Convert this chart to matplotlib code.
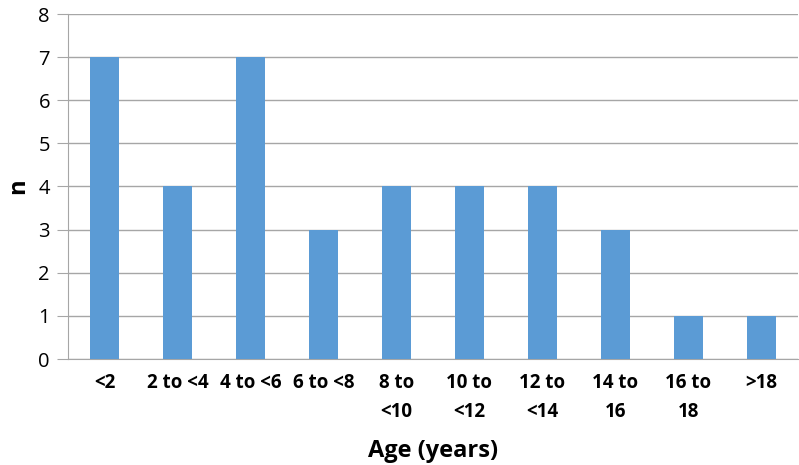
import numpy as np
from matplotlib import pyplot as plt

categories = ['<2', '2 to <4', '4 to <6', '6 to <8', '8 to\n<10', '10 to\n<12',
              '12 to\n<14', '14 to\n16', '16 to\n18', '>18']
counts = [7, 4, 7, 3, 4, 4, 4, 3, 1, 1]

plt.rcParams['font.family'] = ['Open Sans', 'DejaVu Sans']

fig = plt.figure(figsize=(7.99, 4.65), dpi=100)
ax = fig.add_axes([68 / 799, 1 - 359 / 465, 730 / 799, 345 / 465])

x = np.arange(len(categories))
ax.bar(x, counts, width=0.4, color='#5B9BD5', zorder=3)

ax.set_xlim(-0.5, len(categories) - 0.5)
ax.set_ylim(0, 8)
ax.set_yticks(range(0, 9))
ax.yaxis.grid(True, color='#A6A6A6', linewidth=1, zorder=0)
ax.set_xticks(x)
ax.set_xticklabels(categories, fontweight='bold', fontsize=13.5, linespacing=1.6)
ax.tick_params(axis='x', length=0, pad=10)
ax.tick_params(axis='y', length=8, color='#A6A6A6', labelsize=14.5, pad=5)

for side in ['top', 'right']:
    ax.spines[side].set_visible(False)
for side in ['left', 'bottom']:
    ax.spines[side].set_color('#A6A6A6')

ax.set_xlabel('Age (years)', fontweight='bold', fontsize=17)
ax.set_ylabel('n', fontweight='bold', fontsize=17)
ax.xaxis.set_label_coords(0.5, -0.232)
ax.yaxis.set_label_coords(-0.052, 0.5)

fig.savefig('out.png', dpi=100)
